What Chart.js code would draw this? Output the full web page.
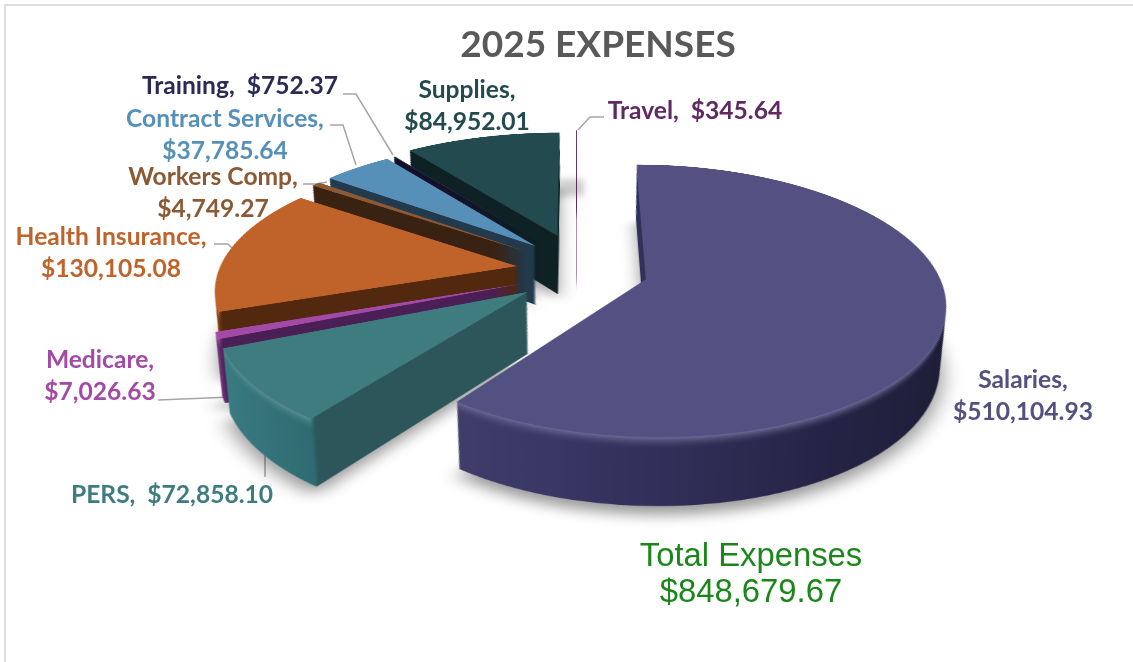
<!DOCTYPE html>
<html><head><meta charset="utf-8">
<script src="https://cdn.jsdelivr.net/npm/chart.js@4"></script>
<style>
html,body{margin:0;padding:0;background:#fff;overflow:hidden}
#stage{position:relative;width:1133px;height:662px;overflow:hidden;background:#fff}
#frame{position:absolute;left:4px;top:4px;right:-5px;bottom:-5px;border:2px solid #dedede}
#blob{position:absolute;left:556px;top:179px;width:28px;height:17px;background:#d0d0d0;filter:blur(3px)}
#plane{position:absolute}
#leaders{position:absolute;left:0;top:0}
.lb{position:absolute;font-family:Lato,"Open Sans",sans-serif;font-weight:700;font-size:24.6px;line-height:32px;text-align:center;white-space:pre}
#title{position:absolute;left:298px;width:600px;top:20px;text-align:center;font:700 37px Lato,"Open Sans",sans-serif;color:#595959}
#total{position:absolute;left:551px;width:400px;top:537px;text-align:center;font:400 32.8px/36px "Liberation Sans",Arial,sans-serif;color:#1b871b}
</style></head>
<body><div id="stage">
<div id="frame"></div><div id="blob"></div>
<svg id="leaders" width="1133" height="662"></svg>
<canvas id="plane"></canvas>
<div id="title"></div><div id="total"></div>
</div>
<script>
// ---- data
const chartTitle = "2025 EXPENSES";
const totalLabel = "Total Expenses";
const totalValue = "$848,679.67";
const categories = ["Salaries","PERS","Medicare","Health Insurance","Workers Comp","Contract Services","Training","Supplies","Travel"];
const values = [510104.93,72858.10,7026.63,130105.08,4749.27,37785.64,752.37,84952.01,345.64];
// ---- styles
const topColors  = ["#525182","#3f7c80","#a24aa5","#c0632a","#8b5a34","#5690b8","#2c2a55","#234a4e","#5f2a63"];
// side colours along x from each slice's apex; third entry 1 = flat cut wall, no rounded edge
const sideStops = [
 [[-175,"#403d6b"],[0,"#31305a"],[150,"#262445"],[300,"#1e1d36"]],
 [[-280,"#3a7c82"],[-178,"#2f6c72"],[-174,"#2c5659",1],[0,"#2c5659",1]],
 [[-300,"#7b3783"],[-276,"#6d3075"],[-272,"#4a1f55",1],[0,"#4a1f55",1]],
 [[-300,"#a5521f"],[-282,"#7a3d15"],[-278,"#52280f",1],[0,"#52280f",1]],
 [[-300,"#3a2212",1],[0,"#3a2212",1]],
 [[-300,"#223a4c",1],[0,"#223a4c",1]],
 [[-300,"#13112a",1],[0,"#13112a",1]],
 [[-300,"#0e2124",1],[0,"#0e2124",1]],
 [[-300,"#4a2050",1],[0,"#4a2050",1]]
];
// ---- per-slice fit of the exploded pieces, in plane units
const sliceShift = [[7,0],[3,9],[5,8],[4,0],[0,-5],[3,-10],[3,-10],[0,-20],[0,-25]];
const sliceScale = [[0.975,1.002],[1,1],[1,1],[1,1],[1,1],[1,1],[1,1],[1,1],[1,1]];
// ---- label layout: [centre x, centre y of first line, text on one line?]
const labelPos = [[1023,379,0],[172,494,1],[100,359,0],[111,236,0],[213,176,0],[225,118,0],[240,85,1],[467,89,0],[695,110,1]];
const leaderLines = [
 [[343,94],[356,94],[393,155]],
 [[330,125],[343,125],[356,165]],
 [[303,184],[316,184],[327,182]],
 [[214,244],[228,244],[232,248]],
 [[604,117],[590,117],[578,130]],
 [[158,400],[232,397]],
 [[265,477],[265,451]]
];
// ---- 3D view
const SIZE=1600, OX=577, OY=270, PERSP=1687, TILT=64.2, EXPLODE=65, RADIUS=298, HEIGHT=68, LAYERS=80, BEVEL=14;
const rad=TILT*Math.PI/180, footY=PERSP*Math.sin(rad), footD=PERSP*Math.cos(rad);

function hex(c){return [1,3,5].map(i=>parseInt(c.substr(i,2),16));}
function toHex(a){return "#"+a.map(v=>Math.round(v).toString(16).padStart(2,"0")).join("");}
function mix(a,b,f){const A=hex(a),B=hex(b);return toHex(A.map((v,i)=>v+(B[i]-v)*f));}

const stack3d={id:"stack3d",
 beforeDatasetDraw(chart){
  const ctx=chart.ctx, arcs=chart.getDatasetMeta(0).data, c=SIZE/2;
  const paint=(el,i,col)=>{
   const o=el.options, n=Object.create(o); n.backgroundColor=col; el.options=n;
   const mid=(el.startAngle+el.endAngle)/2, s=sliceScale[i];
   ctx.save();
   ctx.translate(Math.cos(mid)*EXPLODE+sliceShift[i][0],Math.sin(mid)*EXPLODE+sliceShift[i][1]);
   ctx.translate(c,c);ctx.scale(s[0],s[1]);ctx.translate(-c,-c);
   el.draw(ctx);
   ctx.restore(); el.options=o;
  };
  const atDepth=(h,fn)=>{const t=footD/(footD+h);ctx.save();ctx.translate(c,c+footY);ctx.scale(t,t);ctx.translate(-c,-c-footY);fn();ctx.restore();};
  arcs.forEach((el,i)=>atDepth(HEIGHT,()=>{ctx.shadowColor="rgba(0,0,0,0.40)";ctx.shadowBlur=36;ctx.shadowOffsetY=24;paint(el,i,sideStops[i][0][1]);}));
  for(let i=arcs.length-1;i>=0;i--){
   const el=arcs[i], stops=sideStops[i];
   const x0=stops[0][0],x1=stops[stops.length-1][0];
   const hi=mix(topColors[i],"#ffffff",0.12);
   for(let k=LAYERS;k>=1;k--){
    const bevel=k<=BEVEL?(1-(k-1)/BEVEL):0;
    const g=ctx.createLinearGradient(c+x0,0,c+x1,0);
    stops.forEach(s=>g.addColorStop((s[0]-x0)/(x1-x0),(bevel&&!s[2])?mix(s[1],hi,bevel*bevel):s[1]));
    atDepth(HEIGHT*k/LAYERS,()=>paint(el,i,g));
   }
   paint(el,i,topColors[i]);
  }
  return false;
 }
};

const cv=document.getElementById("plane");
cv.style.left=(OX-SIZE/2)+"px";cv.style.top=(OY-SIZE/2)+"px";
cv.width=SIZE;cv.height=SIZE;
new Chart(cv,{type:"pie",
 data:{labels:categories,datasets:[{data:values,backgroundColor:topColors,borderWidth:0}]},
 options:{responsive:false,animation:false,devicePixelRatio:2,radius:RADIUS,rotation:0,
  layout:{padding:0},plugins:{legend:{display:false},tooltip:{enabled:false},title:{display:false}}},
 plugins:[stack3d]});
cv.style.transformOrigin="50% 50%";
cv.style.transform="perspective("+PERSP+"px) rotateX("+TILT+"deg)";

// ---- texts
const stage=document.getElementById("stage");
document.getElementById("title").textContent=chartTitle;
document.getElementById("total").innerHTML=totalLabel+"<br>"+totalValue;
const money=v=>"$"+v.toLocaleString("en-US",{minimumFractionDigits:2,maximumFractionDigits:2});
categories.forEach((name,i)=>{
 const [x,y,one]=labelPos[i];
 const d=document.createElement("div");d.className="lb";
 d.textContent=one?name+",  "+money(values[i]):name+",\n"+money(values[i]);
 d.style.color=topColors[i];
 d.style.left=(x-150)+"px";d.style.width="300px";d.style.top=(y-16)+"px";
 stage.appendChild(d);
});
const svg=document.getElementById("leaders");
leaderLines.forEach(p=>{
 const l=document.createElementNS("http://www.w3.org/2000/svg","polyline");
 l.setAttribute("points",p.map(q=>q.join(",")).join(" "));
 l.setAttribute("fill","none");l.setAttribute("stroke","#a6a6a6");l.setAttribute("stroke-width","1.5");
 svg.appendChild(l);
});
</script></body></html>
